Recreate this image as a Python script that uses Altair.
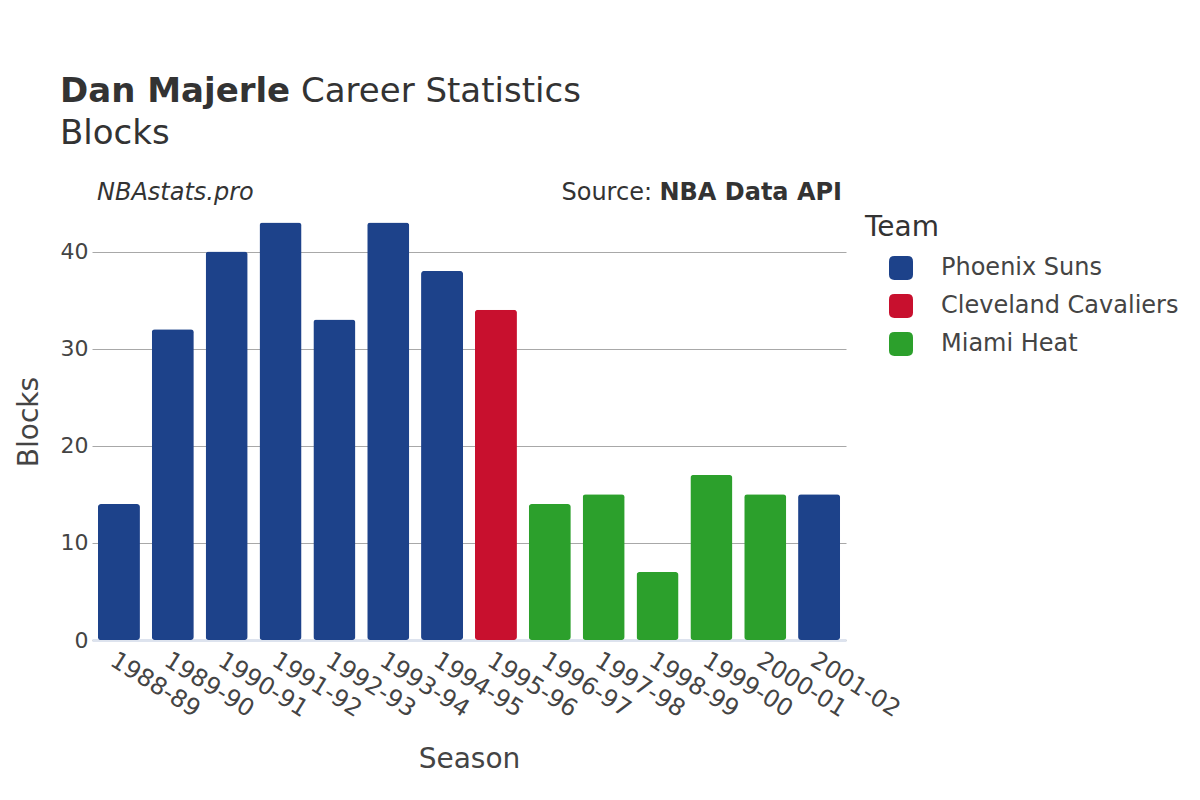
import altair as alt
import pandas as pd

seasons = ["1988-89", "1989-90", "1990-91", "1991-92", "1992-93", "1993-94", "1994-95",
           "1995-96", "1996-97", "1997-98", "1998-99", "1999-00", "2000-01", "2001-02"]
blocks = [14, 32, 40, 43, 33, 43, 38, 34, 14, 15, 7, 17, 15, 15]
teams = ["Phoenix Suns"] * 7 + ["Cleveland Cavaliers"] + ["Miami Heat"] * 5 + ["Phoenix Suns"]
team_order = ["Phoenix Suns", "Cleveland Cavaliers", "Miami Heat"]
team_colors = ["#1d428a", "#c8102e", "#2ca02c"]

df = pd.DataFrame({"Season": seasons, "Blocks": blocks, "Team": teams})

FONT = "DejaVu Sans"
W, H = 754, 437
PAD_L, PAD_T = 84, 195

rounded = ("M -0.55 -1 L 0.55 -1 Q 1 -1 1 -0.55 L 1 0.55 Q 1 1 0.55 1 "
           "L -0.55 1 Q -1 1 -1 0.55 L -1 -0.55 Q -1 -1 -0.55 -1 Z")

bars = alt.Chart(df).mark_bar(cornerRadius=3).encode(
    x=alt.X("Season:O", sort=seasons, title="Season",
            scale=alt.Scale(paddingInner=0.22, paddingOuter=0.11),
            axis=alt.Axis(labelAngle=32, labelFontSize=24, labelColor="#444444",
                          titleFontSize=28, titleFontWeight="normal", titleColor="#444444",
                          titlePadding=24, ticks=False, domainColor="#dde3ee",
                          domainWidth=3, labelPadding=8)),
    y=alt.Y("Blocks:Q", title="Blocks",
            scale=alt.Scale(domain=[0, 45], nice=False),
            axis=alt.Axis(values=[0, 10, 20, 30, 40], labelFontSize=22, labelColor="#444444",
                          titleFontSize=28, titleFontWeight="normal", titleColor="#444444",
                          titlePadding=17, ticks=False, domain=False, gridColor="#a8a8a8",
                          gridWidth=1, labelPadding=4)),
    color=alt.Color("Team:N",
                    scale=alt.Scale(domain=team_order, range=team_colors),
                    legend=alt.Legend(title=None, orient="none", legendX=797, legendY=53,
                                      symbolType=rounded, symbolSize=576,
                                      symbolStrokeWidth=0, labelFontSize=24,
                                      labelColor="#444444", labelOffset=28, labelLimit=0,
                                      rowPadding=14, symbolOpacity=1)),
)

one = pd.DataFrame({"a": [0]})


def label(text, x, y, size, weight="normal", style="normal", align="left", color="#333333"):
    return alt.Chart(one).mark_text(
        text=text, font=FONT, fontSize=size, fontWeight=weight, fontStyle=style,
        align=align, baseline="alphabetic", color=color
    ).encode(x=alt.value(x), y=alt.value(y))


texts = [
    label("Dan Majerle", -32, -101, 34, weight="bold"),
    label("Career Statistics", 209, -101, 34),
    label("Blocks", -32, -59, 34),
    label("NBAstats.pro", 5, -3, 24, style="italic"),
    label("Source:", 560, -3, 24, align="right"),
    label("NBA Data API", 750, -3, 24, weight="bold", align="right"),
    label("Team", 773, 33, 28),
]

chart = alt.layer(bars, *texts).properties(
    width=W, height=H,
    autosize=alt.AutoSizeParams(type="none"),
    padding={"left": PAD_L, "top": PAD_T, "right": 1184 - PAD_L - W, "bottom": 784 - PAD_T - H},
).configure(font=FONT).configure_view(stroke=None)

chart.save("out.html", embed_options={"renderer": "svg", "actions": False})
